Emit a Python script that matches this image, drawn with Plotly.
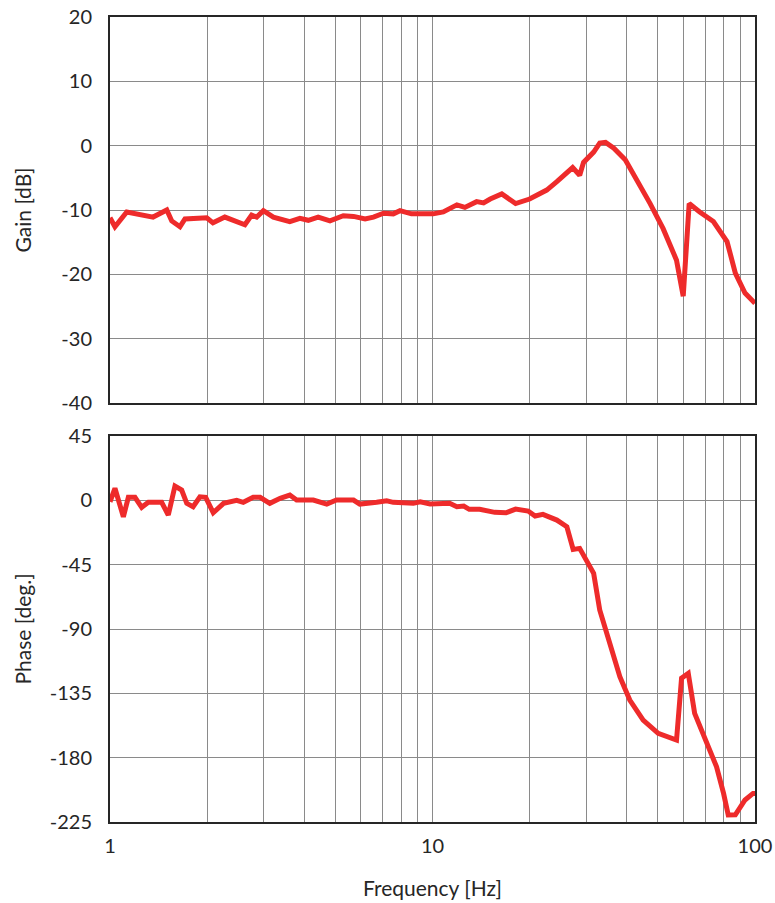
import plotly.graph_objects as go
from plotly.subplots import make_subplots

gain_freq = [1.0, 1.036, 1.127, 1.266, 1.36, 1.50, 1.554, 1.648, 1.708, 1.995, 2.086, 2.27, 2.44, 2.62,
             2.75, 2.85, 2.99, 3.21, 3.61, 3.88, 4.12, 4.42, 4.81, 5.29, 5.69, 6.18, 6.56, 7.05, 7.56,
             7.93, 8.6, 9.35, 10.05, 10.8, 11.9, 12.6, 13.7, 14.4, 15.1, 16.4, 18.1, 20.0, 22.6, 24.3,
             26.1, 27.2, 28.6, 29.4, 31.6, 33.0, 34.4, 36.5, 39.6, 43.0, 47.3, 51.9, 57.1, 59.9, 62.5,
             67.4, 74.3, 81.9, 86.9, 93.1, 98.6, 100.0]
gain_db = [-11.2, -12.6, -10.3, -10.8, -11.1, -10.0, -11.7, -12.6, -11.4, -11.2, -12.0, -11.1, -11.8, -12.3,
           -10.8, -11.1, -10.1, -11.1, -11.8, -11.3, -11.6, -11.1, -11.7, -10.9, -11.0, -11.4, -11.1, -10.5, -10.6,
           -10.1, -10.6, -10.5, -10.6, -10.3, -9.2, -9.6, -8.7, -8.9, -8.3, -7.5, -9.0, -8.3, -6.9, -5.6,
           -4.3, -3.4, -4.6, -2.6, -1.0, 0.4, 0.5, -0.4, -2.2, -5.3, -9.0, -12.9, -17.8, -23.4, -9.0,
           -10.3, -11.8, -14.9, -19.8, -22.9, -24.2, -24.5]

phase_freq = [1.0, 1.036, 1.1, 1.14, 1.195, 1.254, 1.315, 1.446, 1.516, 1.59, 1.668, 1.73, 1.81, 1.90,
              1.98, 2.09, 2.25, 2.47, 2.59, 2.78, 2.92, 3.13, 3.37, 3.61, 3.79, 4.27, 4.70, 5.04, 5.69,
              5.95, 6.71, 7.21, 7.56, 8.13, 8.72, 9.16, 9.83, 11.3, 11.9, 12.5, 13.0, 14.0, 15.6, 16.9,
              18.1, 19.8, 20.8, 22.0, 24.3, 26.1, 27.3, 28.6, 30.1, 31.6, 33.0, 35.7, 38.1, 40.9, 45.0,
              50.1, 57.1, 59.2, 62.1, 65.0, 70.5, 76.0, 79.9, 82.6, 86.9, 93.1, 98.6, 100.0]
phase_deg = [-1.0, 8.4, -11.5, 2.1, 2.1, -4.9, -1.4, -1.4, -10.3, 10.0, 7.2, -2.1, -4.5, 2.5,
             2.1, -8.7, -2.1, 0.0, -1.4, 2.1, 2.1, -2.1, 1.4, 3.7, 0.2, 0.2, -2.6, 0.2, 0.2,
             -2.6, -1.4, -0.3, -1.4, -1.4, -2.1, -1.0, -2.6, -2.1, -4.5, -4.0, -6.3, -6.3, -8.4, -8.7,
             -6.1, -7.5, -11.0, -9.8, -13.8, -18.5, -34.3, -33.6, -41.8, -51.1, -76.7, -102.4, -123.4, -139.7, -153.7,
             -163.0, -167.7, -124.4, -121.0, -149.0, -167.7, -186.4, -205.0, -220.1, -220.0, -209.6, -205.0, -205.0]

x_tickvals = [1, 2, 3, 4, 5, 6, 7, 8, 9, 10, 20, 30, 40, 50, 60, 70, 80, 90, 100]
x_ticktext = ["1", "", "", "", "", "", "", "", "", "10", "", "", "", "", "", "", "", "", "100"]

gain_ticks = [-40, -30, -20, -10, 0, 10, 20]
gain_ticktext = ["-40", "-30", "-20", "-10", "0", "10", "20"]
phase_ticks = [-225, -180, -135, -90, -45, 0, 45]
phase_ticktext = ["-225", "-180", "-135", "-90", "-45", "0", "45"]

red = "#EE2B2B"
font = "Lato, Open Sans, sans-serif"
txt = "#262626"

fig = make_subplots(rows=2, cols=1, vertical_spacing=0.041)
fig.add_trace(go.Scatter(x=gain_freq, y=gain_db, mode="lines",
                         line=dict(color=red, width=5), showlegend=False), row=1, col=1)
fig.add_trace(go.Scatter(x=phase_freq, y=phase_deg, mode="lines",
                         line=dict(color=red, width=5), showlegend=False), row=2, col=1)

xcommon = dict(type="log", range=[0, 2], tickvals=x_tickvals, ticktext=x_ticktext,
               showgrid=True, gridcolor="#8a8a8a", gridwidth=1,
               showline=True, linecolor="#262626", linewidth=2, mirror=True, automargin=False,
               zeroline=False, ticks="", ticklabelstandoff=5, ticklabeloverflow="allow",
               tickfont=dict(size=20, color=txt, family=font))
fig.update_xaxes(**xcommon)
fig.update_xaxes(showticklabels=False, row=1, col=1)
fig.update_xaxes(title=dict(text="Frequency [Hz]", font=dict(size=21, color=txt, family=font),
                            standoff=25), row=2, col=1)

ycommon = dict(showgrid=True, gridcolor="#8a8a8a", gridwidth=1,
               showline=True, linecolor="#262626", linewidth=2, mirror=True, automargin=False,
               zeroline=False, ticks="", ticklabelstandoff=12, ticklabeloverflow="allow",
               tickfont=dict(size=20, color=txt, family=font))
fig.update_yaxes(**ycommon)
fig.update_yaxes(range=[-40, 20], tickvals=gain_ticks, ticktext=gain_ticktext,
                 title=dict(text="Gain [dB]", font=dict(size=21, color=txt, family=font), standoff=24),
                 row=1, col=1)
fig.update_yaxes(range=[-225, 45], tickvals=phase_ticks, ticktext=phase_ticktext,
                 title=dict(text="Phase [deg.]", font=dict(size=21, color=txt, family=font), standoff=12),
                 row=2, col=1)

fig.update_layout(width=775, height=903, margin=dict(l=110, r=20, t=17, b=81),
                  plot_bgcolor="white", paper_bgcolor="white",
                  font=dict(family=font, color=txt))
fig.update_layout(yaxis=dict(domain=[0.5205, 1.0]), yaxis2=dict(domain=[0.0, 0.4795]))

# remove the default page margin so the 775x903 figure fills the window exactly
fig.write_html("out.html", config={"displayModeBar": False},
               post_script="document.body.style.margin='0';document.body.style.overflow='hidden';")
